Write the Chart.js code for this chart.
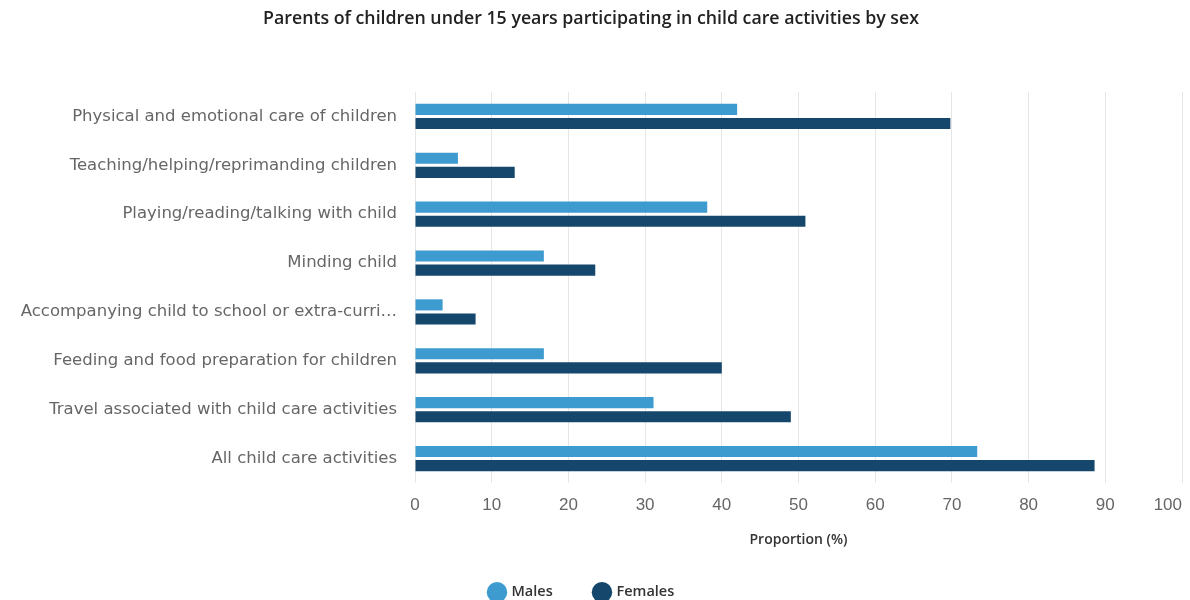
<!DOCTYPE html>
<html>
<head>
<meta charset="utf-8">
<script src="https://cdn.jsdelivr.net/npm/chart.js@4"></script>
<style>
  body { margin: 0; background: #fff; }
  #wrap { width: 1190px; height: 600px; }
</style>
</head>
<body>
<div id="wrap"><canvas id="myChart" width="1190" height="600"></canvas></div>
<script>
// data
const categories = [
    'Physical and emotional care of children',
    'Teaching/helping/reprimanding children',
    'Playing/reading/talking with child',
    'Minding child',
    'Accompanying child to school or extra-curri\u2026',
    'Feeding and food preparation for children',
    'Travel associated with child care activities',
    'All child care activities'
];
const males = [42.0, 5.6, 38.1, 16.8, 3.6, 16.8, 31.1, 73.3];
const females = [69.8, 13.0, 50.9, 23.5, 7.9, 40.0, 49.0, 88.6];
const xTicks = [0, 10, 20, 30, 40, 50, 60, 70, 80, 90, 100];

// nudge the legend a little up and left, like the original
const legendNudge = {
    id: 'legendNudge',
    afterLayout: function (chart) {
        const lg = chart.legend;
        lg.left -= 9; lg.right -= 9;
        lg.top -= 4; lg.bottom -= 4;
    }
};

const ctx = document.getElementById('myChart').getContext('2d');
const barChart = new Chart(ctx, {
    type: 'bar',
    data: {
        labels: categories,
        datasets: [{
            label: 'Males',
            data: males,
            backgroundColor: '#3e9bd0',
            borderWidth: 0,
            categoryPercentage: 0.576,
            barPercentage: 0.79
        }, {
            label: 'Females',
            data: females,
            backgroundColor: '#15476c',
            borderWidth: 0,
            categoryPercentage: 0.576,
            barPercentage: 0.79
        }]
    },
    options: {
        indexAxis: 'y',
        responsive: false,
        animation: false,
        layout: { padding: { left: 0, right: 8, top: 0, bottom: -13.5 } },
        scales: {
            x: {
                min: 0,
                max: 100,
                afterBuildTicks: function (scale) {
                    scale.ticks = xTicks.map(v => ({ value: v }));
                },
                afterFit: function (scale) { scale.paddingRight = 0; },
                grid: { color: '#e6e6e6', drawTicks: false },
                border: { display: false },
                ticks: {
                    color: '#666666',
                    padding: 11.8,
                    maxRotation: 0,
                    // last label sits left of its gridline, as in the original
                    callback: v => v === 100 ? '100      ' : String(v),
                    font: { family: 'Liberation Sans', size: 17 }
                },
                title: {
                    display: true,
                    text: 'Proportion (%)',
                    color: '#333333',
                    padding: { top: 6, bottom: 0 },
                    font: { family: 'Open Sans', size: 14, weight: '600', lineHeight: 1 }
                }
            },
            y: {
                afterFit: function (scale) { scale.width = 415; },
                grid: { display: false, drawTicks: false },
                border: { display: false },
                ticks: {
                    color: '#666666',
                    padding: 18,
                    font: { family: 'DejaVu Sans', size: 16.5 }
                }
            }
        },
        plugins: {
            title: {
                display: true,
                text: 'Parents of children under 15 years participating in child care activities by sex',
                color: '#222222',
                padding: { top: 8, bottom: 62.7 },
                font: { family: 'Open Sans', size: 17.75, weight: '600' }
            },
            legend: {
                position: 'bottom',
                labels: {
                    usePointStyle: true,
                    pointStyle: 'circle',
                    boxWidth: 20,
                    boxHeight: 20,
                    padding: 42,
                    color: '#333333',
                    font: { family: 'Open Sans', size: 14.5, weight: '600' }
                }
            },
            tooltip: { enabled: false }
        }
    },
    plugins: [legendNudge]
});
</script>
</body>
</html>
